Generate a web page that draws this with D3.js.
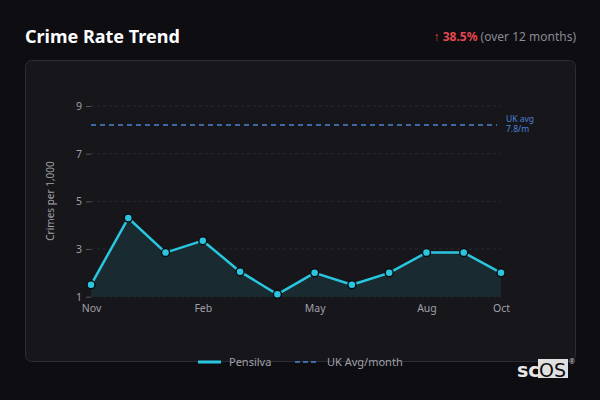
<!DOCTYPE html>
<html>
<head>
<meta charset="utf-8">
<script src="https://cdn.jsdelivr.net/npm/d3@7"></script>
<style>
  html, body { margin: 0; padding: 0; background: #0d0d12; }
  svg { display: block; }
</style>
</head>
<body>
<svg id="chart" width="600" height="400"></svg>
<script>
const months = ['Nov', 'Dec', 'Jan', 'Feb', 'Mar', 'Apr', 'May', 'Jun', 'Jul', 'Aug', 'Sep', 'Oct'];
const rates = [1.5, 4.3, 2.85, 3.35, 2.05, 1.1, 2.0, 1.5, 2.0, 2.85, 2.85, 2.0];
const ukAvg = 8.2;
const yTicks = [1, 3, 5, 7, 9];
const xTickLabels = ['Nov', 'Feb', 'May', 'Aug', 'Oct'];

const width = 600;
const height = 400;
const font = '"Noto Sans", "Open Sans", sans-serif';

const svg = d3.select('#chart')
  .attr('font-family', font);

svg.append('rect')
  .attr('width', width).attr('height', height)
  .attr('fill', '#0d0d12');

// panel
svg.append('rect')
  .attr('x', 25.5).attr('y', 60.5)
  .attr('width', 550).attr('height', 301)
  .attr('rx', 6)
  .attr('fill', '#16161b')
  .attr('stroke', '#2c2c33');

// header
svg.append('text')
  .attr('x', 25).attr('y', 43)
  .attr('fill', '#ffffff')
  .attr('font-size', 18)
  .attr('font-weight', 'bold')
  .text('Crime Rate Trend');

const change = svg.append('text')
  .attr('x', 576).attr('y', 41)
  .attr('text-anchor', 'end')
  .attr('font-size', 12);
change.append('tspan').attr('fill', '#e5484d').text('↑ ');
change.append('tspan').attr('fill', '#e5484d').attr('font-weight', 'bold').text('38.5%');
change.append('tspan').attr('fill', '#8a8a92').text(' (over 12 months)');

const x = d3.scalePoint()
  .domain(months)
  .range([91, 501]);

const y = d3.scaleLinear()
  .domain([1, 9])
  .range([296.7, 106]);

const g = svg.append('g');

// grid
g.append('g')
  .selectAll('line')
  .data(yTicks)
  .join('line')
  .attr('x1', 91).attr('x2', 501)
  .attr('y1', d => y(d)).attr('y2', d => y(d))
  .attr('stroke', '#2a2a30')
  .attr('stroke-dasharray', '3,3');

// y axis
const yAxis = g.append('g')
  .attr('transform', 'translate(91,0)')
  .call(d3.axisLeft(y).tickValues(yTicks).tickSize(5).tickPadding(4));
yAxis.select('.domain').remove();
yAxis.selectAll('line').attr('stroke', '#55555c');
yAxis.selectAll('text').attr('fill', '#a0a0a8').attr('font-size', 10.5).attr('font-family', font);

// x axis
const xAxis = g.append('g')
  .attr('transform', 'translate(0,297)')
  .call(d3.axisBottom(x).tickValues(xTickLabels).tickSize(0).tickPadding(8));
xAxis.select('.domain').remove();
xAxis.selectAll('text').attr('fill', '#a0a0a8').attr('font-size', 10.5).attr('font-family', font);

svg.append('text')
  .attr('transform', 'translate(54,201) rotate(-90)')
  .attr('text-anchor', 'middle')
  .attr('fill', '#a0a0a8')
  .attr('font-size', 10)
  .text('Crimes per 1,000');

// area + line
const area = d3.area()
  .x((d, i) => x(months[i]))
  .y0(y(1))
  .y1(d => y(d));

const line = d3.line()
  .x((d, i) => x(months[i]))
  .y(d => y(d));

g.append('path')
  .datum(rates)
  .attr('fill', '#1a2c33')
  .attr('fill-opacity', 0.9)
  .attr('d', area);

// UK avg
g.append('line')
  .attr('x1', 91).attr('x2', 497)
  .attr('y1', y(ukAvg)).attr('y2', y(ukAvg))
  .attr('stroke', '#4d82d6')
  .attr('stroke-width', 1.5)
  .attr('stroke-dasharray', '5,4');

const ukLabel = g.append('text')
  .attr('x', 506).attr('y', y(ukAvg) - 3)
  .attr('fill', '#4d82d6')
  .attr('font-size', 8.5);
ukLabel.append('tspan').attr('x', 506).text('UK avg');
ukLabel.append('tspan').attr('x', 506).attr('dy', 10).text('7.8/m');

g.append('path')
  .datum(rates)
  .attr('fill', 'none')
  .attr('stroke', '#2ac6e0')
  .attr('stroke-width', 2.5)
  .attr('stroke-linejoin', 'round')
  .attr('d', line);

g.append('g')
  .selectAll('circle')
  .data(rates)
  .join('circle')
  .attr('cx', (d, i) => x(months[i]))
  .attr('cy', d => y(d))
  .attr('r', 4)
  .attr('fill', '#2ac6e0')
  .attr('stroke', '#0d0d12')
  .attr('stroke-width', 1.5);

// legend
const legend = svg.append('g').attr('font-size', 11);
legend.append('line')
  .attr('x1', 198).attr('x2', 221).attr('y1', 362).attr('y2', 362)
  .attr('stroke', '#2ac6e0').attr('stroke-width', 3);
legend.append('text')
  .attr('x', 229).attr('y', 366)
  .attr('fill', '#a0a0a8')
  .text('Pensilva');
legend.append('line')
  .attr('x1', 295).attr('x2', 319).attr('y1', 362).attr('y2', 362)
  .attr('stroke', '#4d82d6').attr('stroke-width', 1.5)
  .attr('stroke-dasharray', '5,3');
legend.append('text')
  .attr('x', 327).attr('y', 366)
  .attr('fill', '#a0a0a8')
  .text('UK Avg/month');

// logo
const logo = svg.append('g');
logo.append('text')
  .attr('x', 517).attr('y', 377)
  .attr('fill', '#e8e8e8')
  .attr('font-size', 19)
  .attr('font-weight', 'bold')
  .attr('font-family', '"DejaVu Sans", sans-serif')
  .text('sc');
logo.append('rect')
  .attr('x', 538).attr('y', 359)
  .attr('width', 30).attr('height', 19)
  .attr('fill', '#e0e0e0');
logo.append('text')
  .attr('x', 539).attr('y', 377)
  .attr('fill', '#0d0d12')
  .attr('font-size', 19)
  .attr('font-family', '"DejaVu Sans", sans-serif')
  .text('OS');
logo.append('text')
  .attr('x', 569).attr('y', 364)
  .attr('fill', '#c8c8c8')
  .attr('font-size', 7)
  .text('®');
</script>
</body>
</html>
